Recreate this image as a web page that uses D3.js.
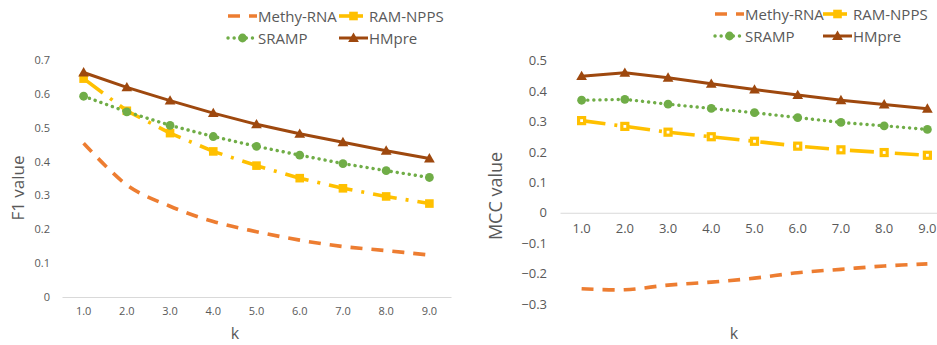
<!DOCTYPE html>
<html>
<head>
<meta charset="utf-8">
<script src="https://cdn.jsdelivr.net/npm/d3@7"></script>
<style>
  html, body { margin: 0; padding: 0; background: #fff; }
  svg { display: block; font-family: "Open Sans", "DejaVu Sans", sans-serif; }
</style>
</head>
<body>
<svg id="chart" width="937" height="345"></svg>
<script>
// k values shared by both panels
const kLabels = ["1.0", "2.0", "3.0", "4.0", "5.0", "6.0", "7.0", "8.0", "9.0"];

// F1 value per method
const f1Methy  = [0.454, 0.331, 0.268, 0.223, 0.193, 0.168, 0.149, 0.137, 0.124];
const f1Ram    = [0.645, 0.550, 0.484, 0.430, 0.388, 0.351, 0.321, 0.297, 0.276];
const f1Sramp  = [0.593, 0.547, 0.507, 0.474, 0.445, 0.419, 0.394, 0.373, 0.353];
const f1HMpre  = [0.663, 0.619, 0.580, 0.543, 0.510, 0.482, 0.457, 0.432, 0.409];

// MCC value per method
const mccMethy = [-0.250, -0.253, -0.238, -0.228, -0.215, -0.197, -0.186, -0.175, -0.168];
const mccRam   = [0.303, 0.284, 0.265, 0.250, 0.235, 0.219, 0.207, 0.198, 0.189];
const mccSramp = [0.370, 0.373, 0.357, 0.343, 0.329, 0.313, 0.297, 0.286, 0.274];
const mccHMpre = [0.449, 0.460, 0.444, 0.424, 0.405, 0.387, 0.370, 0.356, 0.342];

// axis ticks
const f1Ticks  = [0, 0.1, 0.2, 0.3, 0.4, 0.5, 0.6, 0.7];
const mccTicks = [-0.3, -0.2, -0.1, 0, 0.1, 0.2, 0.3, 0.4, 0.5];

const seriesNames = ["Methy-RNA", "RAM-NPPS", "SRAMP", "HMpre"];

// series styling
const styles = {
  "Methy-RNA": { color: "#ED7D31", width: 3.6, dash: "12,9",     cap: "butt",  marker: null,       smooth: true },
  "RAM-NPPS":  { color: "#FFC000", width: 3.6, dash: "24,9,3,9", cap: "butt",  marker: "square",   smooth: false },
  "SRAMP":     { color: "#70AD47", width: 3.4, dash: "0.1,6",    cap: "round", marker: "circle",   smooth: false },
  "HMpre":     { color: "#9E480E", width: 3,   dash: null,       cap: "butt",  marker: "triangle", smooth: false }
};

const svg = d3.select("#chart");

function drawMarker(g, type, cx, cy, color, hollow) {
  if (type === "square") {
    if (hollow) {
      g.append("rect").attr("x", cx - 3).attr("y", cy - 3).attr("width", 6).attr("height", 6)
        .attr("fill", "#fff").attr("stroke", color).attr("stroke-width", 3.2);
    } else {
      g.append("rect").attr("x", cx - 4.3).attr("y", cy - 4.3).attr("width", 8.6).attr("height", 8.6)
        .attr("fill", color);
    }
  } else if (type === "circle") {
    g.append("circle").attr("cx", cx).attr("cy", cy).attr("r", 4.4).attr("fill", color);
  } else if (type === "triangle") {
    g.append("path")
      .attr("d", d3.symbol().type(d3.symbolTriangle).size(50)())
      .attr("transform", `translate(${cx},${cy + 0.8})`)
      .attr("fill", color);
  }
}

function drawPanel(cfg) {
  const g = svg.append("g");
  const x = d3.scaleBand().domain(kLabels).range([cfg.x0, cfg.x1]).padding(0);
  const cx = d => x(d) + x.bandwidth() / 2;
  const y = d3.scaleLinear().domain(cfg.yDomain).range([cfg.yBottom, cfg.yTop]);
  const fmt = v => (Math.abs(v) < 1e-9 ? "0" : d3.format(".1f")(v));

  // value axis (labels only)
  const ya = g.append("g").attr("transform", `translate(${cfg.yLabelX},0)`)
    .call(d3.axisLeft(y).tickValues(cfg.ticks).tickFormat(fmt).tickSize(0).tickPadding(0));
  ya.select(".domain").remove();
  ya.selectAll("text").attr("fill", "#595959").attr("font-size", cfg.tickFont)
    .attr("font-family", "Open Sans, sans-serif");

  // category axis at zero
  const xa = g.append("g").attr("transform", `translate(0,${y(0)})`)
    .call(d3.axisBottom(x).tickSize(0).tickSizeOuter(0).tickPadding(cfg.xPad));
  xa.select(".domain").attr("stroke", "#D9D9D9").attr("stroke-width", 1);
  xa.selectAll("text").attr("fill", "#595959").attr("font-size", cfg.tickFont)
    .attr("font-family", "Open Sans, sans-serif");

  // axis titles
  g.append("text").attr("x", cfg.kX).attr("y", 339).attr("text-anchor", "middle")
    .attr("font-size", 16).attr("fill", "#595959").text("k");
  g.append("text").attr("transform", `translate(${cfg.titleX},${cfg.titleY}) rotate(-90)`)
    .attr("text-anchor", "middle").attr("dominant-baseline", "central")
    .attr("font-size", cfg.titleFont).attr("fill", "#595959").text(cfg.title);

  // series lines and markers
  cfg.series.forEach((vals, i) => {
    const name = seriesNames[i];
    const st = styles[name];
    const line = d3.line()
      .x((d, j) => cx(kLabels[j]))
      .y(d => y(d))
      .curve(st.smooth ? d3.curveCardinal.tension(0) : d3.curveLinear);
    g.append("path").datum(vals).attr("d", line)
      .attr("fill", "none").attr("stroke", st.color).attr("stroke-width", st.width)
      .attr("stroke-dasharray", st.dash).attr("stroke-linecap", st.cap)
      .attr("stroke-linejoin", "round");
    if (st.marker) {
      vals.forEach((v, j) => drawMarker(g, st.marker, cx(kLabels[j]), y(v), st.color, cfg.hollowSquares));
    }
  });

  // legend, two rows by two columns
  const lg = g.append("g");
  seriesNames.forEach((name, i) => {
    const st = styles[name];
    const col = i % 2, row = Math.floor(i / 2);
    const lx = cfg.legendX[col], ly = cfg.legendY[row];
    lg.append("line").attr("x1", lx).attr("x2", lx + 29).attr("y1", ly).attr("y2", ly)
      .attr("stroke", st.color).attr("stroke-width", st.width)
      .attr("stroke-dasharray", st.dash).attr("stroke-linecap", st.cap);
    if (st.marker) drawMarker(lg, st.marker, lx + 14.5, ly, st.color, false);
    lg.append("text").attr("x", lx + 30).attr("y", ly).attr("dominant-baseline", "central")
      .attr("font-size", 15).attr("fill", "#595959").text(name);
  });
}

drawPanel({
  x0: 62, x1: 451, yDomain: [0, 0.7], yBottom: 297, yTop: 60,
  ticks: f1Ticks, yLabelX: 50, tickFont: 11, xPad: 10, titleFont: 17,
  kX: 235, title: "F1 value", titleX: 17, titleY: 188,
  series: [f1Methy, f1Ram, f1Sramp, f1HMpre],
  legendX: [228, 339], legendY: [16, 38], hollowSquares: false
});

drawPanel({
  x0: 560, x1: 949, yDomain: [-0.3, 0.5], yBottom: 304, yTop: 60.7,
  ticks: mccTicks, yLabelX: 547, tickFont: 13, xPad: 11, titleFont: 18,
  kX: 734, title: "MCC value", titleX: 495, titleY: 196,
  series: [mccMethy, mccRam, mccSramp, mccHMpre],
  legendX: [715, 823], legendY: [14, 36], hollowSquares: true
});
</script>
</body>
</html>
